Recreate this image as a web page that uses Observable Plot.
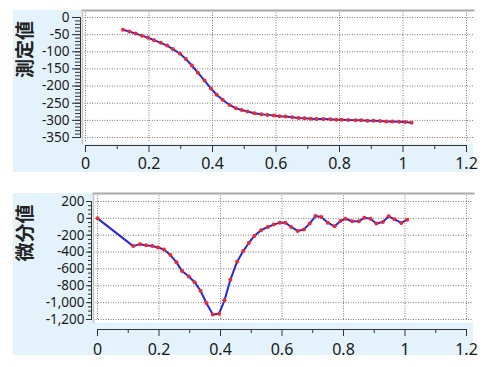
<!DOCTYPE html>
<html><head><meta charset="utf-8">
<script src="https://cdn.jsdelivr.net/npm/d3@7"></script>
<script src="https://cdn.jsdelivr.net/npm/@observablehq/plot@0.6"></script>
<style>
body{margin:0;background:#fff;}
#wrap{position:relative;width:495px;height:367px;overflow:hidden;}
.bg{position:absolute;background:#e4f2fc;}
.chart{position:absolute;left:0;}
</style></head><body>
<div id="wrap">
<div class="bg" style="left:13px;top:10px;width:460px;height:162px"></div>
<div class="bg" style="left:13px;top:193px;width:460px;height:162px"></div>
<div class="chart" id="c1" style="top:0"></div>
<div class="chart" id="c2" style="top:180px"></div>
</div>
<script>
// ---- tick values ----
const xTicks = [0, 0.2, 0.4, 0.6, 0.8, 1, 1.2];
const xMinorTicks = [0.1, 0.3, 0.5, 0.7, 0.9, 1.1];
const measuredTicks = [0, -50, -100, -150, -200, -250, -300, -350];
const measuredMinorTicks = d3.range(0, -351, -10);
const diffTicks = [200, 0, -200, -400, -600, -800, -1000, -1200];
const diffMinorTicks = d3.range(200, -1201, -50);

// ---- labels ----
const measuredLabel = "測定値";
const diffLabel = "微分値";

// ---- series: measured value ----
const measuredX = [0.118, 0.138, 0.158, 0.178, 0.197, 0.216, 0.237, 0.257, 0.275, 0.297,
  0.316, 0.335, 0.354, 0.375, 0.395, 0.413, 0.432, 0.454, 0.474, 0.492,
  0.51, 0.532, 0.554, 0.573, 0.593, 0.611, 0.63, 0.651, 0.671, 0.69,
  0.709, 0.728, 0.749, 0.771, 0.79, 0.806, 0.828, 0.85, 0.868, 0.888,
  0.907, 0.928, 0.947, 0.966, 0.988, 1.007, 1.027];
const measuredY = [-36, -41, -47, -53, -59, -66, -74, -82, -92, -105,
  -121, -140, -161, -184, -207, -225, -240, -255, -265, -270,
  -274, -279, -282, -284, -286, -288, -289, -291, -293, -294,
  -295, -296, -296, -297, -298, -298, -299, -300, -300, -301,
  -301, -302, -303, -303, -304, -305, -307];

// ---- series: differential value ----
const diffX = [0, 0.116, 0.138, 0.158, 0.178, 0.197, 0.216, 0.237, 0.257, 0.275, 0.297,
  0.316, 0.335, 0.354, 0.375, 0.395, 0.413, 0.432, 0.454, 0.474, 0.492,
  0.51, 0.532, 0.554, 0.573, 0.593, 0.611, 0.63, 0.651, 0.671, 0.69,
  0.709, 0.728, 0.749, 0.771, 0.79, 0.806, 0.828, 0.85, 0.868, 0.888,
  0.907, 0.928, 0.947, 0.966, 0.988, 1.007];
const diffY = [0, -329, -306, -318, -329, -345, -369, -435, -522, -624, -690,
  -757, -859, -1004, -1141, -1133, -973, -729, -514, -388, -292,
  -208, -141, -102, -74, -51, -51, -102, -149, -133, -62,
  27, 15, -51, -94, -31, -4, -35, -35, 8, -4,
  -62, -43, 24, -12, -55, -16];

const measuredRows = measuredX.map((x, i) => ({x, y: measuredY[i]}));
const diffRows = diffX.map((x, i) => ({x, y: diffY[i]}));

const LINE = "#2828e0", DOT = "#f02828", GRID = "#6e6e6e", BORDER = "#a9a9a9", INK = "#1a1a1a";
const fmtPlain = d => String(d);
const fmtComma = d => d.toLocaleString("en-US");

function chart(o) {
  return Plot.plot({
    width: 495, height: o.height,
    marginLeft: o.ml, marginRight: 22, marginTop: o.mt, marginBottom: o.mb,
    x: {domain: o.xDomain, label: null},
    y: {domain: o.yDomain, label: null},
    style: {background: "transparent", fontFamily: "'Noto Sans', sans-serif", color: INK, overflow: "visible"},
    marks: [
      Plot.frame({fill: "white", stroke: "none", insetLeft: 2, insetBottom: o.plotInsetBottom, dx: 0, dy: 0}),
      Plot.ruleX(xTicks, {stroke: GRID, strokeOpacity: 0.9, strokeWidth: 1, strokeDasharray: "1,1.5", insetBottom: o.plotInsetBottom + 2}),
      Plot.ruleY(o.yTicks, {stroke: GRID, strokeOpacity: 0.9, strokeWidth: 1, strokeDasharray: "1,1.5", insetLeft: 2}),
      Plot.frame({anchor: "top", insetLeft: 2, stroke: BORDER, strokeWidth: 2}),
      Plot.frame({anchor: "left", insetLeft: 2, insetBottom: o.plotInsetBottom, stroke: "#c4c4c4", strokeWidth: 1.5}),
      // y axis
      Plot.frame({anchor: "left", insetTop: o.yLineTop, insetBottom: o.yLineBottom, stroke: "#333"}),
      Plot.axisY({ticks: o.yMinor, tickSize: o.yMinorSize, fill: "none", stroke: "#333", label: null}),
      Plot.axisY({ticks: o.yTicks, tickSize: o.yTickSize, tickPadding: o.yPad, tickFormat: o.yFmt, fontSize: o.yFont, stroke: "#333", label: null}),
      // x axis
      Plot.frame({anchor: "bottom", insetLeft: o.xLineLeft, insetRight: 7, stroke: "#333"}),
      Plot.axisX({ticks: xMinorTicks, tickSize: 4, fill: "none", stroke: "#333", label: null}),
      Plot.axisX({ticks: xTicks, tickSize: 7, tickPadding: o.xPad, tickFormat: fmtPlain, fontSize: 16, stroke: "#333", label: null}),
      // y label
      Plot.text([o.label], {text: d => d, frameAnchor: "left", dx: o.labelDx, rotate: -90, fontSize: 19, fontWeight: "bold", fontFamily: "'Noto Sans CJK JP', sans-serif", fill: "#222"}),
      // data
      Plot.line(o.rows, {x: "x", y: "y", stroke: LINE, strokeWidth: 2}),
      Plot.dot(o.rows, {x: "x", y: "y", r: 2, fill: DOT, stroke: "none"})
    ]
  });
}

document.getElementById("c1").append(chart({
  height: 180, ml: 80, mt: 10, mb: 35,
  xDomain: [-0.0157, 1.222], yDomain: [-373.3, 20.4],
  plotInsetBottom: 2, yLineTop: 7, yLineBottom: 8, xLineLeft: 5,
  yTicks: measuredTicks, yMinor: measuredMinorTicks, yTickSize: 8, yMinorSize: 5, yPad: 3, yFmt: fmtPlain, yFont: 13.5,
  xPad: 5, label: measuredLabel, labelDx: -55, rows: measuredRows
}));

document.getElementById("c2").append(chart({
  height: 187, ml: 91, mt: 13, mb: 38,
  xDomain: [-0.0195, 1.2228], yDomain: [-1318.6, 294.9],
  plotInsetBottom: 7, yLineTop: 8, yLineBottom: 10, xLineLeft: 6,
  yTicks: diffTicks, yMinor: diffMinorTicks, yTickSize: 5, yMinorSize: 3, yPad: 2, yFmt: fmtComma, yFont: 13.5,
  xPad: 7, label: diffLabel, labelDx: -66, rows: diffRows
}));
</script>
</body></html>
